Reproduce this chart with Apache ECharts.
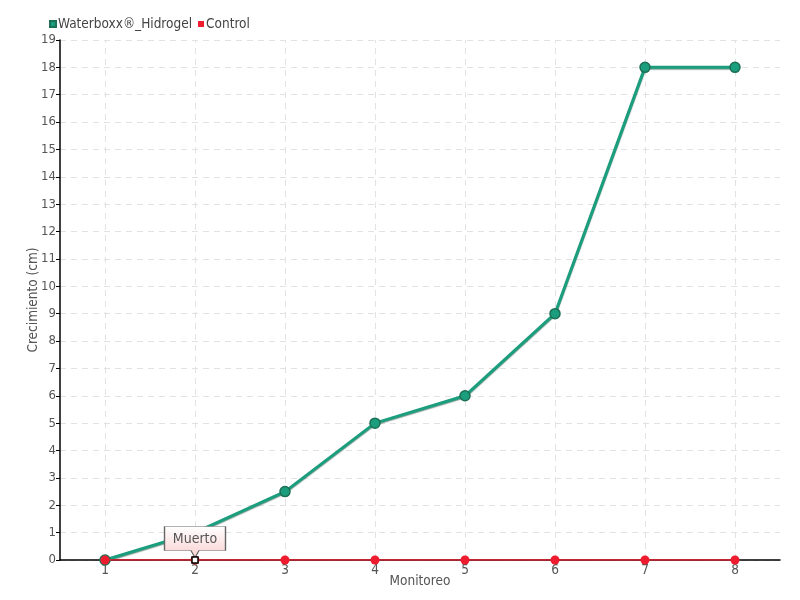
<!DOCTYPE html>
<html>
<head>
<meta charset="utf-8">
<script src="https://cdn.jsdelivr.net/npm/echarts@6/dist/echarts.min.js"></script>
<style>
  html, body { margin: 0; padding: 0; background: #fff; }
  #chart { width: 800px; height: 600px; }
</style>
</head>
<body>
<div id="chart"></div>
<script>
// data
const monitoreos = ['1', '2', '3', '4', '5', '6', '7', '8'];
const waterboxx = [0, 1, 2.5, 5, 6, 9, 18, 18];
const control = [0, 0, 0, 0, 0, 0, 0, 0];
const yTicks = { min: 0, max: 19, interval: 1 };

const font = '"Liberation Sans Narrow", "DejaVu Sans Condensed", "Roboto", sans-serif';
const teal = '#1b9e7d';
const red = '#ee1c2e';

const chart = echarts.init(document.getElementById('chart'));

chart.setOption({
    animation: false,
    textStyle: { fontFamily: font },
    legend: {
        left: 44,
        top: 12,
        itemWidth: 6,
        itemHeight: 6,
        itemGap: 6,
        textStyle: { fontFamily: font, fontSize: 13.5, color: '#444', padding: [0, 0, 0, -3] },
        data: [
            { name: 'Waterboxx®_Hidrogel', icon: 'rect' },
            { name: 'Control', icon: 'rect' }
        ]
    },
    grid: { left: 60, right: 20, top: 40, bottom: 40 },
    xAxis: {
        type: 'category',
        data: monitoreos,
        boundaryGap: true,
        name: 'Monitoreo',
        nameLocation: 'middle',
        nameGap: 14,
        nameMoveOverlap: false,
        nameTextStyle: { fontFamily: font, fontSize: 13.5, color: '#555' },
        axisLine: { lineStyle: { color: '#000', width: 1.5 } },
        axisTick: { show: false },
        axisLabel: { fontFamily: font, fontSize: 13.5, color: '#555', margin: 3 },
        splitLine: { show: false }
    },
    yAxis: {
        type: 'value',
        min: yTicks.min,
        max: yTicks.max,
        interval: yTicks.interval,
        name: 'Crecimiento (cm)',
        nameLocation: 'middle',
        nameGap: 20,
        nameMoveOverlap: false,
        nameTextStyle: { fontFamily: font, fontSize: 13.5, color: '#555' },
        axisLine: { show: true, lineStyle: { color: '#000', width: 1.5 } },
        axisTick: { show: true, length: 4, lineStyle: { color: '#000' } },
        axisLabel: { fontFamily: font, fontSize: 13, color: '#555', margin: 4 },
        splitLine: { show: true, lineStyle: { color: '#e2e2e2', type: [6, 5] } }
    },
    series: [
        {
            name: 'Waterboxx®_Hidrogel',
            type: 'line',
            data: waterboxx,
            z: 3,
            symbol: 'circle',
            symbolSize: 10,
            itemStyle: { color: teal, borderColor: '#1d6f55', borderWidth: 1.5 },
            lineStyle: { color: teal, width: 3, shadowColor: 'rgba(0,60,40,0.5)', shadowBlur: 1, shadowOffsetY: 1 },
            markLine: {
                silent: true,
                symbol: 'none',
                label: { show: false },
                lineStyle: { color: '#e2e2e2', type: [6, 5], width: 1 },
                z: 1,
                data: monitoreos.map(m => ({ xAxis: m }))
            }
        },
        {
            name: 'Control',
            type: 'line',
            data: control,
            z: 4,
            symbol: 'circle',
            symbolSize: 9,
            itemStyle: { color: red },
            lineStyle: { color: red, width: 1.5 },
            markPoint: {
                silent: true,
                z: 10,
                data: [
                    {
                        coord: ['2', 0],
                        symbol: 'path://M0,0 H60 V24 H34 L30,31 L26,24 H0 Z',
                        symbolSize: [61, 31],
                        symbolKeepAspect: false,
                        symbolOffset: [0, -18],
                        itemStyle: {
                            color: new echarts.graphic.LinearGradient(0, 0, 0, 1, [
                                { offset: 0, color: '#ffffff' },
                                { offset: 0.8, color: '#fbd9d9' },
                                { offset: 1, color: '#fbd9d9' }
                            ]),
                            borderColor: '#666',
                            borderWidth: 1
                        },
                        label: {
                            show: true,
                            formatter: 'Muerto',
                            position: 'inside',
                            offset: [0, -3],
                            fontFamily: font,
                            fontSize: 14,
                            color: '#555'
                        }
                    },
                    {
                        coord: ['2', 0],
                        symbol: 'rect',
                        symbolSize: 6,
                        itemStyle: { color: '#fff', borderColor: '#000', borderWidth: 1.5 },
                        label: { show: false }
                    }
                ]
            }
        }
    ]
});
</script>
</body>
</html>
